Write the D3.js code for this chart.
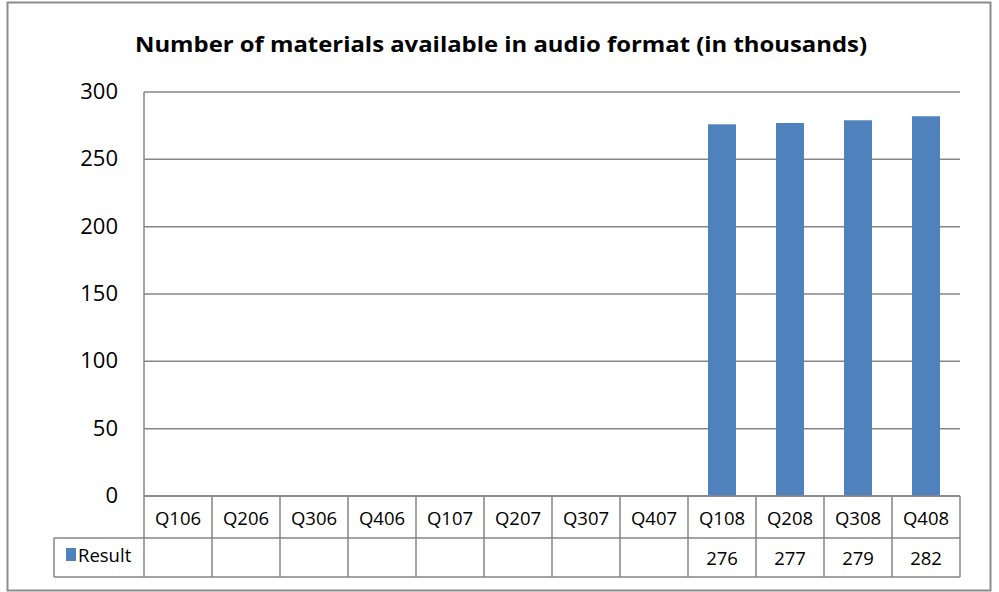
<!DOCTYPE html>
<html><head><meta charset="utf-8">
<script src="https://cdn.jsdelivr.net/npm/d3@7"></script>
<style>body{margin:0;background:#fff}svg{display:block}</style>
</head><body>
<script>
const title = "Number of materials available in audio format (in thousands)";
const categories = ["Q106","Q206","Q306","Q406","Q107","Q207","Q307","Q407","Q108","Q208","Q308","Q408"];
const values = [null,null,null,null,null,null,null,null,276,277,279,282];
const seriesName = "Result";
const yTicks = [0,50,100,150,200,250,300];

const W = 999, H = 592;
const m = {left:144, right:960, top:92, bottom:496};
const rowH1 = 42, rowH2 = 39;
const grid = "#868686";
const barColor = "#4F81BD";
const tf = "'Open Sans',sans-serif";

const svg = d3.select("body").append("svg").attr("width",W).attr("height",H);
svg.append("rect").attr("x",7.5).attr("y",2.5).attr("width",983).attr("height",588)
  .attr("fill","#fff").attr("stroke","#8c8c8c").attr("stroke-width",2);

svg.append("text").attr("x",501).attr("y",52).attr("text-anchor","middle")
  .attr("font-family",tf).attr("font-weight","bold")
  .attr("font-size",22).attr("fill","#000")
  .attr("textLength",732).attr("lengthAdjust","spacingAndGlyphs").text(title);

const x = d3.scaleBand().domain(categories).range([m.left,m.right]);
const y = d3.scaleLinear().domain([0,300]).range([m.bottom,m.top]);

svg.append("g").selectAll("line").data(yTicks).join("line")
  .attr("x1",m.left).attr("x2",m.right).attr("y1",d=>y(d)).attr("y2",d=>y(d))
  .attr("stroke",grid).attr("stroke-width",1.5);
svg.append("line").attr("x1",m.left).attr("x2",m.left).attr("y1",m.top).attr("y2",m.bottom)
  .attr("stroke",grid).attr("stroke-width",1.5);
const yAxis = d3.axisLeft(y).tickValues(yTicks).tickSize(0).tickPadding(26);
const ga = svg.append("g").attr("transform",`translate(${m.left},0)`).call(yAxis);
ga.select(".domain").remove();
ga.selectAll("text").attr("font-family",tf).attr("font-size",22).attr("fill","#000").attr("dy","0.3em");

const bw = 28;
svg.append("g").selectAll("rect").data(categories.map((c,i)=>({c,v:values[i]})).filter(d=>d.v!=null))
  .join("rect")
  .attr("x",d=>x(d.c)+x.bandwidth()/2-bw/2).attr("width",bw)
  .attr("y",d=>y(d.v)).attr("height",d=>y(0)-y(d.v)).attr("fill",barColor);

const t = svg.append("g").attr("stroke",grid).attr("stroke-width",1.5);
const yb1 = m.bottom, yb2 = m.bottom+rowH1, yb3 = m.bottom+rowH1+rowH2;
t.append("line").attr("x1",m.left).attr("x2",m.right).attr("y1",yb1).attr("y2",yb1);
t.append("line").attr("x1",54).attr("x2",m.right).attr("y1",yb2).attr("y2",yb2);
t.append("line").attr("x1",54).attr("x2",m.right).attr("y1",yb3).attr("y2",yb3);
t.append("line").attr("x1",54).attr("x2",54).attr("y1",yb2).attr("y2",yb3);
const edges = categories.map(c=>x(c)).concat([m.right]);
t.selectAll(".v").data(edges).join("line").attr("class","v")
  .attr("x1",d=>d).attr("x2",d=>d).attr("y1",yb1).attr("y2",yb3);

svg.append("g").selectAll("text").data(categories).join("text")
  .attr("x",d=>x(d)+x.bandwidth()/2).attr("y",yb1+29).attr("text-anchor","middle")
  .attr("font-family",tf).attr("font-size",18.5).attr("fill","#000").text(d=>d);
svg.append("g").selectAll("text").data(categories.map((c,i)=>({c,v:values[i]})).filter(d=>d.v!=null)).join("text")
  .attr("x",d=>x(d.c)+x.bandwidth()/2).attr("y",yb2+27).attr("text-anchor","middle")
  .attr("font-family",tf).attr("font-size",18.5).attr("fill","#000").text(d=>d.v);
svg.append("rect").attr("x",66).attr("y",yb2+10).attr("width",10).attr("height",13).attr("fill",barColor);
svg.append("text").attr("x",78).attr("y",yb2+24).attr("font-family",tf).attr("font-size",18.5)
  .attr("fill","#000").text(seriesName);
</script>
</body></html>
